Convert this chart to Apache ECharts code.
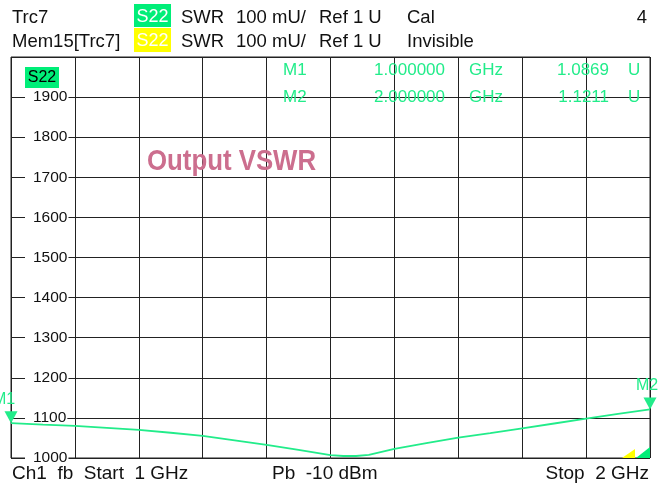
<!DOCTYPE html>
<html><head><meta charset="utf-8">
<script src="https://cdn.jsdelivr.net/npm/echarts@6/dist/echarts.min.js"></script>
<style>html,body{margin:0;padding:0;background:#fff}#c{width:667px;height:488px}</style>
</head><body><div id="c"></div>
<script>
// ---- data ----
const freqGHz  = [1.00,1.05,1.10,1.15,1.20,1.25,1.30,1.35,1.40,1.45,1.50,1.52,1.54,1.56,1.60,1.65,1.70,1.75,1.80,1.85,1.90,1.95,2.00];
const swrMilliU = [1086.9,1083,1080,1075,1070,1063,1055,1044,1033,1020,1007,1005,1005,1008,1023,1037,1051,1062,1074,1086,1098,1110,1121.1];
const yTicks = [1000,1100,1200,1300,1400,1500,1600,1700,1800,1900];
const markerNames = ['M1','M2'];
const markerFreqGHz = [1.0, 2.0];
const markerValU = [1.0869, 1.1211];
const headerRow1 = ['Trc7','S22','SWR','100 mU/','Ref 1 U','Cal','4'];
const headerRow2 = ['Mem15[Trc7]','S22','SWR','100 mU/','Ref 1 U','Invisible'];
const footer = ['Ch1  fb  Start  1 GHz','Pb  -10 dBm','Stop  2 GHz'];
const title = 'Output VSWR';

const GREEN = '#22ec8a';
const FONT = "'Liberation Sans', Arial, sans-serif";
const chart = echarts.init(document.getElementById('c'));

const pts = freqGHz.map((f,i)=>[f, swrMilliU[i]]);
const mpData = markerNames.map((n,i)=>({
  name:n, coord:[markerFreqGHz[i], markerValU[i]*1000],
  label:{offset:[i===0?-7:-3,0]}
}));

function txt(text,x,y,size,fill,align,extra){
  return Object.assign({type:'text',x:x,y:y,z:10,silent:true,style:{text:text,font:size+'px '+FONT,fill:fill,textAlign:align||'left',textVerticalAlign:'middle'}},extra||{});
}

const graphics = [
  txt(headerRow1[0],12,18,18.5,'#111'),
  {type:'rect',shape:{x:134,y:4,width:37,height:23},style:{fill:'#00ee78'},z:9},
  txt(headerRow1[1],152.5,17,18,'#fff','center'),
  txt(headerRow1[2],181,18,18.5,'#111'),
  txt(headerRow1[3],236,18,18.5,'#111'),
  txt(headerRow1[4],319,18,18.5,'#111'),
  txt(headerRow1[5],407,18,18.5,'#111'),
  txt(headerRow1[6],647,18,18.5,'#111','right'),
  txt(headerRow2[0],12,41.5,18.5,'#111'),
  {type:'rect',shape:{x:134,y:28,width:37,height:24},style:{fill:'#ffff00'},z:9},
  txt(headerRow2[1],152.5,41,18,'#fff','center'),
  txt(headerRow2[2],181,41.5,18.5,'#111'),
  txt(headerRow2[3],236,41.5,18.5,'#111'),
  txt(headerRow2[4],319,41.5,18.5,'#111'),
  txt(headerRow2[5],407,41.5,18.5,'#111'),
  // in-plot trace badge
  {type:'rect',shape:{x:25,y:67,width:34,height:21},style:{fill:'#00ee78'},z:9},
  txt('S22',42,77.5,16,'#000','center'),
  // title (condensed bold)
  {type:'text',x:147,y:162,scaleX:0.86,scaleY:1,originX:0,originY:0,z:10,silent:true,
   style:{text:title,font:"bold 30px "+FONT,fill:'#cc6e8e',textAlign:'left',textVerticalAlign:'middle'}},
  // footer
  txt(footer[0],12,474,19,'#111'),
  txt(footer[1],272,474,19,'#111'),
  txt(footer[2],649,474,19,'#111','right')
];
// marker readout
markerNames.forEach((n,i)=>{
  const y = i===0 ? 70 : 97.5;
  graphics.push(txt(n,283,y,17,GREEN));
  graphics.push(txt(markerFreqGHz[i].toFixed(6),445,y,17,GREEN,'right'));
  graphics.push(txt('GHz',469,y,17,GREEN));
  graphics.push(txt(markerValU[i].toFixed(4),609,y,17,GREEN,'right'));
  graphics.push(txt('U',628,y,17,GREEN));
});

chart.setOption({
  animation:false,
  backgroundColor:'#fff',
  grid:{left:11,right:17,top:57,bottom:30,show:true,borderColor:'#222',borderWidth:1},
  xAxis:{type:'value',min:1,max:2,interval:0.1,
    axisLine:{show:false},axisTick:{show:false},axisLabel:{show:false},
    splitLine:{show:true,lineStyle:{color:'#222',width:1}}},
  yAxis:{type:'value',min:1000,max:2000,interval:100,z:3,
    axisLine:{show:false},axisTick:{show:false},
    splitLine:{show:true,lineStyle:{color:'#222',width:1}},
    axisLabel:{inside:true,margin:14,color:'#111',fontSize:15.5,fontFamily:FONT,
      showMaxLabel:false,
      backgroundColor:'#fff',padding:[1,1,1,8],
      formatter:v=>yTicks.includes(v)?String(v):''}},
  series:[{type:'line',data:pts,showSymbol:false,clip:false,z:5,
    lineStyle:{color:GREEN,width:1.8},
    markPoint:{symbol:'triangle',symbolSize:[13,12],symbolRotate:180,symbolOffset:[0,-6],
      itemStyle:{color:GREEN},
      label:{show:true,position:'top',distance:4,color:GREEN,fontSize:16,fontFamily:FONT,formatter:p=>p.name},
      data:mpData}}],
  graphic:graphics
});

// small position indicators at the bottom-right corner of the grid
const c = chart.convertToPixel({gridIndex:0},[2,1000]);
graphics.push({type:'polygon',z:8,shape:{points:[[c[0]-28,c[1]],[c[0]-15,c[1]-9],[c[0]-15,c[1]]]},style:{fill:'#ffff00'}});
graphics.push({type:'polygon',z:8,shape:{points:[[c[0]-14,c[1]],[c[0],c[1]-11],[c[0],c[1]]]},style:{fill:'#00ee78'}});
chart.setOption({graphic:graphics});
</script></body></html>
